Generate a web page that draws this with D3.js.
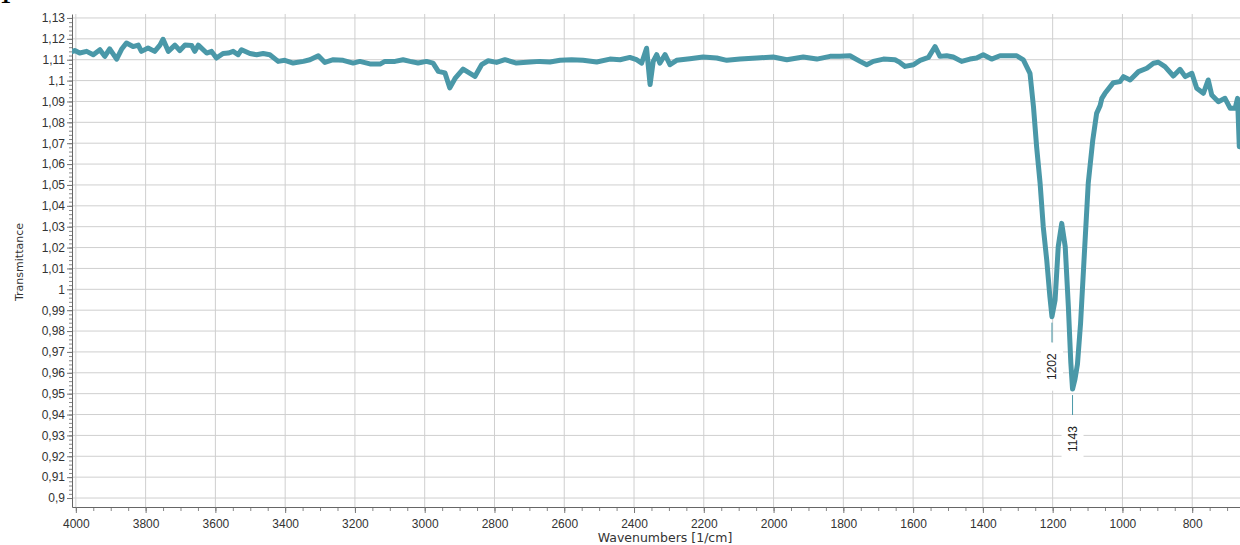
<!DOCTYPE html>
<html>
<head>
<meta charset="utf-8">
<style>
    body { margin: 0; background: #fff; }
    svg { display: block; font-family: "DejaVu Sans", Verdana, sans-serif; }
    .axis .domain { stroke: #666; }
    .axis line { stroke: #777; }
    .axis text { fill: #333; font-size: 12px; }
    .minor .domain { display: none; }
    .minor line { stroke: #888; }
    .grid line { stroke: #cfcfcf; stroke-width: 1; }
</style>
</head>
<body>
<svg width="1240" height="545"></svg>

<script src="https://cdn.jsdelivr.net/npm/d3@7"></script>
<script>
    // spectrum
    var wavenumbers = [4008, 4003, 3989, 3969, 3950, 3931, 3917, 3903, 3883, 3869, 3855, 3836, 3821, 3812,
        3793, 3774, 3759, 3750, 3735, 3716, 3702, 3687, 3668, 3659, 3649, 3625, 3611, 3597, 3578, 3563,
        3549, 3535, 3525, 3501, 3482, 3463, 3444, 3420, 3401, 3377, 3348, 3329, 3305, 3286, 3262, 3234,
        3205, 3186, 3157, 3128, 3114, 3085, 3062, 3042, 3019, 2995, 2976, 2961, 2942, 2928, 2913, 2890,
        2856, 2837, 2818, 2794, 2770, 2737, 2698, 2670, 2641, 2612, 2579, 2546, 2507, 2469, 2440, 2412,
        2393, 2378, 2364, 2354, 2345, 2335, 2326, 2311, 2297, 2278, 2240, 2202, 2163, 2134, 2096, 2048,
        2001, 1962, 1915, 1876, 1838, 1810, 1781, 1752, 1733, 1714, 1685, 1652, 1638, 1623, 1599, 1580,
        1556, 1537, 1523, 1504, 1485, 1461, 1437, 1418, 1399, 1375, 1351, 1303, 1284, 1265, 1255, 1246,
        1236, 1227, 1217, 1208, 1202, 1193, 1184, 1174, 1164, 1155, 1148, 1143, 1136, 1129, 1120, 1107,
        1098, 1085, 1074, 1064, 1059, 1050, 1026, 1007, 997, 978, 954, 930, 911, 897, 878, 854, 835, 820,
        801, 787, 768, 754, 744, 725, 706, 691, 677, 670, 665];

    var transmittance = [1.1140, 1.1144, 1.1132, 1.1140, 1.1124, 1.1148, 1.1116, 1.1152, 1.1103, 1.1150, 1.1180, 1.1163, 1.1170, 1.1140,
        1.1156, 1.1140, 1.1170, 1.1198, 1.1140, 1.1170, 1.1144, 1.1170, 1.1168, 1.1140, 1.1170, 1.1132, 1.1140, 1.1108, 1.1130, 1.1132,
        1.1140, 1.1124, 1.1148, 1.1130, 1.1124, 1.1130, 1.1124, 1.1092, 1.1097, 1.1084, 1.1092, 1.1100, 1.1119, 1.1087, 1.1100, 1.1097,
        1.1084, 1.1092, 1.1080, 1.1079, 1.1092, 1.1092, 1.1100, 1.1092, 1.1084, 1.1092, 1.1084, 1.1044, 1.1037, 1.0965, 1.1010, 1.1055,
        1.1020, 1.1076, 1.1095, 1.1087, 1.1100, 1.1084, 1.1089, 1.1092, 1.1089, 1.1097, 1.1100, 1.1097, 1.1089, 1.1103, 1.1100, 1.1111,
        1.1100, 1.1084, 1.1155, 1.0981, 1.1092, 1.1124, 1.1084, 1.1124, 1.1076, 1.1097, 1.1105, 1.1113, 1.1108, 1.1097, 1.1103, 1.1108,
        1.1113, 1.1100, 1.1113, 1.1103, 1.1116, 1.1116, 1.1119, 1.1092, 1.1076, 1.1092, 1.1103, 1.1100, 1.1087, 1.1068, 1.1076, 1.1097,
        1.1111, 1.1163, 1.1116, 1.1119, 1.1113, 1.1092, 1.1103, 1.1108, 1.1124, 1.1103, 1.1119, 1.1119, 1.1099, 1.1035, 1.0875, 1.0683,
        1.0508, 1.0300, 1.0140, 0.9965, 0.9869, 0.9949, 1.0204, 1.0316, 1.0204, 0.9917, 0.9650, 0.9522, 0.9570, 0.9640, 0.9837, 1.0236,
        1.0508, 1.0715, 1.0843, 1.0880, 1.0915, 1.0939, 1.0990, 1.0995, 1.1019, 1.1003, 1.1043, 1.1059, 1.1083, 1.1088, 1.1067, 1.1022, 1.1054, 1.1019,
        1.1035, 1.0963, 1.0939, 1.1003, 1.0931, 1.0899, 1.0915, 1.0867, 1.0867, 1.0915, 1.0683];

    var xTickValues = [4000, 3800, 3600, 3400, 3200, 3000, 2800, 2600, 2400, 2200, 2000, 1800, 1600, 1400, 1200, 1000, 800];
    var yTickValues = [0.90, 0.91, 0.92, 0.93, 0.94, 0.95, 0.96, 0.97, 0.98, 0.99, 1.00, 1.01,
        1.02, 1.03, 1.04, 1.05, 1.06, 1.07, 1.08, 1.09, 1.10, 1.11, 1.12, 1.13];
    var peakLabels = [1202, 1143];

    var svg = d3.select("svg"),
        margin = {top: 14, right: 0, bottom: 38, left: 72},
        width = +svg.attr("width") - margin.left - margin.right,
        height = +svg.attr("height") - margin.top - margin.bottom,
        g = svg.append("g").attr("transform", "translate(" + margin.left + "," + margin.top + ")");

    var x = d3.scaleLinear().domain([4011, 663]).range([0, width]);
    var y = d3.scaleLinear().domain([0.8957, 1.1319]).range([height, 0]);

    var comma = d3.formatLocale({decimal: ",", thousands: ".", grouping: [3], currency: ["", ""]}).format(".2~f");

    // grid
    g.append("g").attr("class", "grid")
        .selectAll("line").data(xTickValues).enter().append("line")
        .attr("x1", function (d) { return x(d); })
        .attr("x2", function (d) { return x(d); })
        .attr("y1", 0).attr("y2", height);

    g.append("g").attr("class", "grid")
        .selectAll("line").data(yTickValues).enter().append("line")
        .attr("x1", 0).attr("x2", width)
        .attr("y1", function (d) { return y(d); })
        .attr("y2", function (d) { return y(d); });

    // minor ticks
    g.append("g").attr("class", "minor")
        .attr("transform", "translate(0," + height + ")")
        .call(d3.axisBottom(x).tickValues(d3.range(700, 4001, 50)).tickSize(4).tickFormat(""));
    g.append("g").attr("class", "minor")
        .call(d3.axisLeft(y).tickValues(d3.range(450, 566).map(function (d) { return d / 500; })).tickSize(3).tickFormat(""));

    g.append("g").attr("class", "axis")
        .attr("transform", "translate(0," + height + ")")
        .call(d3.axisBottom(x).tickValues(xTickValues).tickSize(6).tickPadding(6).tickSizeOuter(0).tickFormat(d3.format("d")));

    g.append("g").attr("class", "axis")
        .call(d3.axisLeft(y).tickValues(yTickValues).tickSize(5).tickPadding(2).tickSizeOuter(0).tickFormat(comma));

    svg.append("clipPath").attr("id", "plot")
        .append("rect").attr("width", width).attr("height", height);

    var line = d3.line()
        .x(function (d, i) { return x(wavenumbers[i]); })
        .y(function (d) { return y(d); });

    g.append("path")
        .datum(transmittance)
        .attr("clip-path", "url(#plot)")
        .attr("fill", "none")
        .attr("stroke", "#4a98a8")
        .attr("stroke-width", 5)
        .attr("stroke-linejoin", "round")
        .attr("stroke-linecap", "round")
        .attr("d", line);

    // peak markers
    var peaks = g.selectAll(".peak").data(peakLabels).enter().append("g")
        .attr("class", "peak")
        .attr("transform", function (d) {
            var v = transmittance[wavenumbers.indexOf(d)];
            return "translate(" + x(d) + "," + y(v) + ")";
        });

    peaks.append("line")
        .attr("y1", 6).attr("y2", 26)
        .attr("stroke", "#4a98a8").attr("stroke-width", 1);

    peaks.append("rect")
        .attr("x", -11).attr("y", 26)
        .attr("width", 22).attr("height", 48)
        .attr("fill", "#fff");

    peaks.append("text")
        .attr("transform", "translate(0,50) rotate(-90)")
        .attr("text-anchor", "middle")
        .attr("dy", "0.35em")
        .attr("font-family", "Liberation Sans, Arial, sans-serif")
        .attr("font-size", 12)
        .attr("fill", "#222")
        .text(function (d) { return d; });

    svg.append("text")
        .attr("x", 665)
        .attr("y", 542)
        .attr("text-anchor", "middle")
        .attr("font-size", 12.5)
        .attr("fill", "#333")
        .text("Wavenumbers [1/cm]");

    svg.append("text")
        .attr("transform", "translate(23,262) rotate(-90)")
        .attr("text-anchor", "middle")
        .attr("font-size", 11)
        .attr("fill", "#333")
        .text("Transmittance");

    // cropped figure number at the corner
    svg.append("text")
        .attr("x", 0).attr("y", 3)
        .attr("font-family", "Liberation Serif, serif")
        .attr("font-weight", "bold")
        .attr("font-size", 22)
        .text("1");
</script>
</body>
</html>
